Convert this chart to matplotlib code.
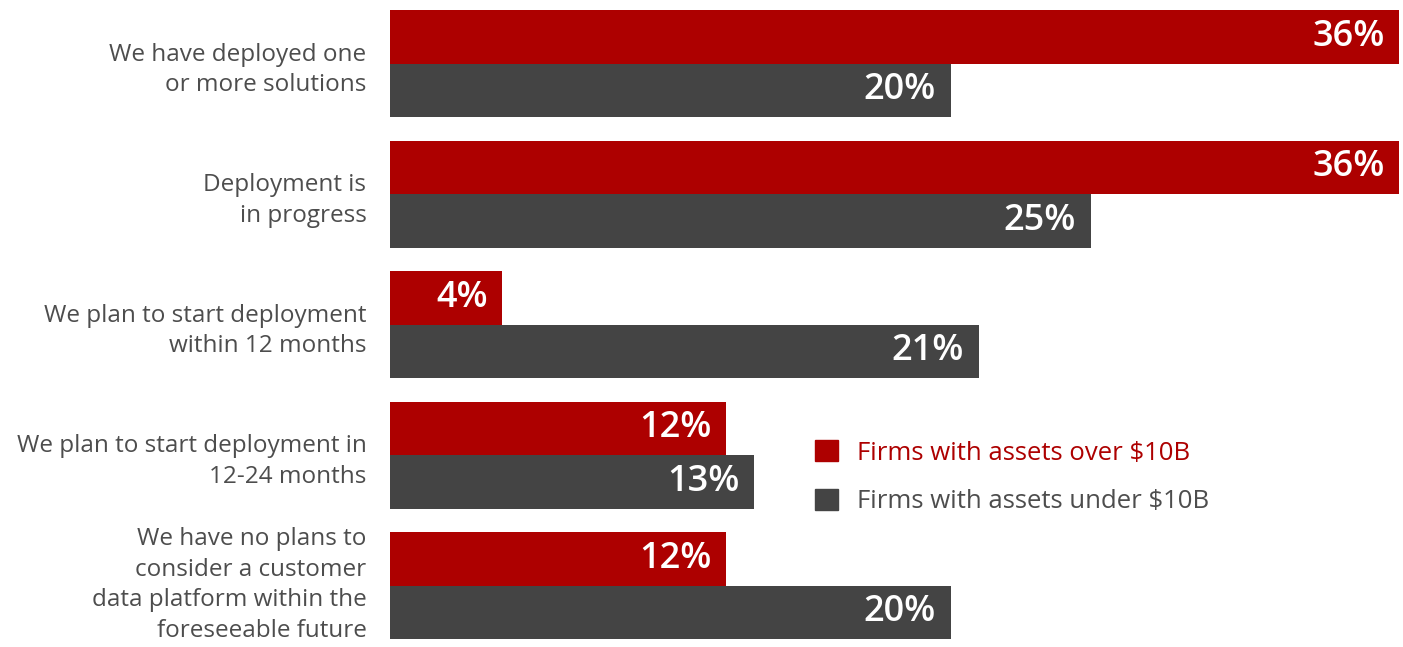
import matplotlib.pyplot as plt
import matplotlib.transforms as mtransforms
import numpy as np
from matplotlib.patches import Patch

plt.rcParams['font.family'] = ['Open Sans', 'DejaVu Sans']

categories = [
    'We have deployed one\nor more solutions',
    'Deployment is\nin progress',
    'We plan to start deployment\nwithin 12 months',
    'We plan to start deployment in\n12-24 months',
    'We have no plans to\nconsider a customer\ndata platform within the\nforeseeable future',
]
over_10b = [36, 36, 4, 12, 12]
under_10b = [20, 25, 21, 13, 20]
series_names = ['Firms with assets over $10B', 'Firms with assets under $10B']

red = '#ad0000'
grey = '#444444'
text_grey = '#4d4d4d'

fig = plt.figure(figsize=(14.03, 6.47), dpi=100)
ax = fig.add_axes([390 / 1403, 0, 1013 / 1403, 1])

y = np.arange(len(categories))
h = 0.41
ax.barh(y - h / 2, over_10b, height=h, color=red)
ax.barh(y + h / 2, under_10b, height=h, color=grey)

ax.set_xlim(0, 1013 / 28.03)
ax.set_ylim(4.471, -0.4866)

# value labels inside the bar ends
for yy, v in zip(y - h / 2, over_10b):
    ax.annotate(f'{v}%', (v, yy), xytext=(-10.5, 0), textcoords='offset points',
                ha='right', va='center', color='white', fontsize=26, fontweight='semibold')
for yy, v in zip(y + h / 2, under_10b):
    ax.annotate(f'{v}%', (v, yy), xytext=(-10.5, 0), textcoords='offset points',
                ha='right', va='center', color='white', fontsize=26, fontweight='semibold')

ax.set_yticks(y)
ax.set_yticklabels(categories, fontsize=17.5, color=text_grey, linespacing=1.38)
ax.tick_params(axis='y', length=0, pad=17)
ax.set_xticks([])
for s in ax.spines.values():
    s.set_visible(False)

# nudge the four-line label up so it stays inside the figure
last = ax.get_yticklabels()[-1]
last.set_transform(last.get_transform() + mtransforms.ScaledTranslation(0, 5 / 72, fig.dpi_scale_trans))

handles = [Patch(color=red), Patch(color=grey)]
leg = fig.legend(handles, series_names, loc='upper left',
                 bbox_to_anchor=(815 / 1403, 1 - 440 / 647), bbox_transform=fig.transFigure,
                 frameon=False, fontsize=18.5, handlelength=0.9, handleheight=0.9,
                 handletextpad=0.74, labelspacing=0.9, borderpad=0, borderaxespad=0,
                 labelcolor=[red, text_grey])

fig.savefig('out.png', dpi=100)
